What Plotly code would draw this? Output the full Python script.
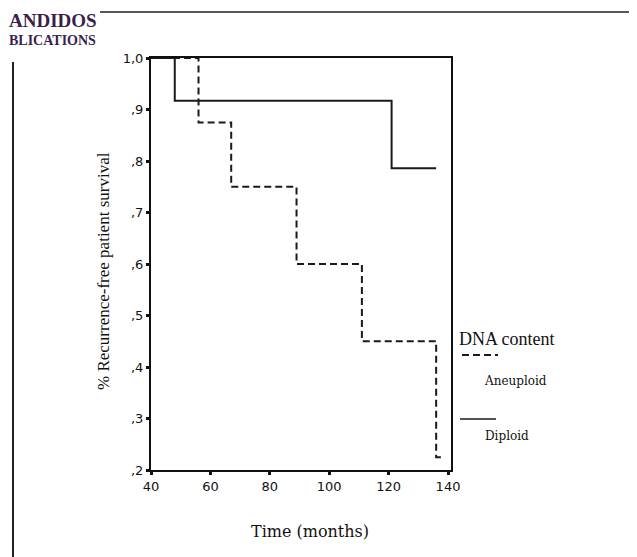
import plotly.graph_objects as go

# ---- data ----
diploid_time = [40, 48, 121, 136]
diploid_surv = [1.0, 0.917, 0.786, 0.786]
aneuploid_time = [40, 56, 67, 89, 111, 136, 138]
aneuploid_surv = [1.0, 0.875, 0.75, 0.60, 0.45, 0.225, 0.225]
x_ticks = [40, 60, 80, 100, 120, 140]
y_ticks = [0.2, 0.3, 0.4, 0.5, 0.6, 0.7, 0.8, 0.9, 1.0]
y_tick_text = [",2", ",3", ",4", ",5", ",6", ",7", ",8", ",9", "1,0"]

OFF = 8  # default page body margin
W, H = 637 - OFF, 557 - OFF
L, R, T, B = 151 - OFF, 451 - OFF, 58 - OFF, 470 - OFF  # plot area in figure pixels


def px(x):
    return (x - OFF - L) / (R - L)


def py(y):
    return (B - (y - OFF)) / (B - T)


SERIF = "Liberation Serif, Times New Roman, serif"
WSERIF = "DejaVu Serif, serif"
SANS = "DejaVu Sans, sans-serif"

fig = go.Figure()
fig.add_trace(go.Scatter(x=diploid_time, y=diploid_surv, mode="lines",
                         line=dict(shape="hv", color="#1a1a1a", width=2),
                         name="Diploid", showlegend=False))
fig.add_trace(go.Scatter(x=aneuploid_time, y=aneuploid_surv, mode="lines",
                         line=dict(shape="hv", color="#1a1a1a", width=2, dash="7px,4px"),
                         name="Aneuploid", showlegend=False))

shapes = [
    dict(type="line", xref="paper", yref="paper", x0=px(100), x1=px(640), y0=py(12), y1=py(12),
         line=dict(color="#222", width=1.5)),
    dict(type="line", xref="paper", yref="paper", x0=px(13), x1=px(13), y0=py(62), y1=py(560),
         line=dict(color="#222", width=2)),
    dict(type="line", xref="paper", yref="paper", x0=px(462), x1=px(498), y0=py(355), y1=py(355),
         line=dict(color="#1a1a1a", width=2, dash="7px,4px")),
    dict(type="line", xref="paper", yref="paper", x0=px(460), x1=px(496), y0=py(419), y1=py(419),
         line=dict(color="#1a1a1a", width=1.5)),
]

annotations = [
    dict(text="<b>ANDIDOS</b>", x=px(8), y=py(21), xanchor="left", yanchor="middle",
         borderpad=0, font=dict(family=SERIF, size=19, color="#3b1f4b")),
    dict(text="<b>BLICATIONS</b>", x=px(8), y=py(32), xanchor="left", yanchor="top",
         borderpad=0, font=dict(family=SERIF, size=14, color="#3b1f4b")),
    dict(text="DNA content", x=px(457), y=py(339), xanchor="left", yanchor="middle",
         font=dict(family=SERIF, size=18, color="#111")),
    dict(text="Aneuploid", x=px(482), y=py(381), xanchor="left", yanchor="middle",
         font=dict(family=WSERIF, size=12, color="#111")),
    dict(text="Diploid", x=px(483), y=py(436), xanchor="left", yanchor="middle",
         font=dict(family=WSERIF, size=12, color="#111")),
    dict(text="Time (months)", x=px(310), y=py(531), xanchor="center", yanchor="middle",
         font=dict(family=WSERIF, size=16, color="#111")),
    dict(text="% Recurrence-free patient survival", x=px(103), y=py(271), xanchor="center",
         yanchor="middle", textangle=-90, font=dict(family=SERIF, size=17, color="#111")),
]
for a in annotations:
    a.update(xref="paper", yref="paper", showarrow=False)

fig.update_layout(
    width=W, height=H,
    margin=dict(l=L, r=W - R, t=T, b=H - B, autoexpand=False),
    plot_bgcolor="white", paper_bgcolor="white",
    shapes=shapes, annotations=annotations,
    font=dict(family=SANS, size=12, color="#111"),
    xaxis=dict(range=[40, 141], tickvals=x_ticks, ticks="outside", ticklen=3, tickwidth=3,
               tickcolor="#111", showgrid=False, zeroline=False, showline=True, mirror=True,
               linecolor="#111", linewidth=2, automargin=False,
               tickfont=dict(family=SANS, size=13, color="#111")),
    yaxis=dict(range=[0.2, 1.0], tickvals=y_ticks, ticktext=y_tick_text, ticks="outside",
               ticklen=3, tickwidth=3, tickcolor="#111", showgrid=False, zeroline=False,
               showline=True, mirror=True, linecolor="#111", linewidth=2, automargin=False,
               tickfont=dict(family=SANS, size=13, color="#111")),
)

fig.write_html("out.html")
